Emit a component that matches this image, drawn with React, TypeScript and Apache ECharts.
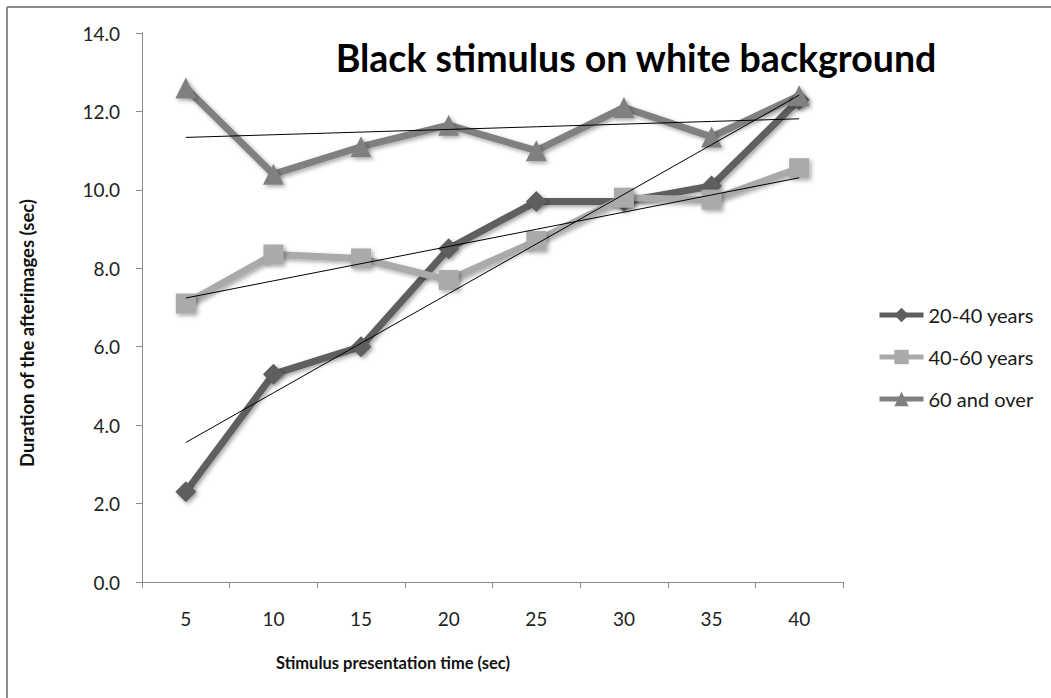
import React, { useEffect, useRef } from "react";
import * as echarts from "echarts";

const categories = ["5", "10", "15", "20", "25", "30", "35", "40"];
const young = [2.3, 5.3, 6.0, 8.5, 9.7, 9.7, 10.1, 12.3];
const middle = [7.1, 8.35, 8.25, 7.7, 8.7, 9.8, 9.75, 10.55];
const older = [12.6, 10.4, 11.1, 11.65, 11.0, 12.1, 11.35, 12.4];
const seriesNames = ["20-40 years", "40-60 years", "60 and over"];
const yTicks = { min: 0, max: 14, interval: 2 };

// least-squares linear trend evaluated at each category position
function linearTrend(values: number[]): number[] {
  const n = values.length;
  const xs = values.map((_, i) => i);
  const mx = xs.reduce((a, b) => a + b, 0) / n;
  const my = values.reduce((a, b) => a + b, 0) / n;
  let sxy = 0;
  let sxx = 0;
  for (let i = 0; i < n; i++) {
    sxy += (xs[i] - mx) * (values[i] - my);
    sxx += (xs[i] - mx) * (xs[i] - mx);
  }
  const slope = sxy / sxx;
  return xs.map((x) => +(my + slope * (x - mx)).toFixed(4));
}

const FONT = "Lato, 'Open Sans', sans-serif";

export default function App() {
  const ref = useRef<HTMLDivElement>(null);

  useEffect(() => {
    document.body.style.margin = "0";
    const chart = echarts.init(ref.current!, null, { renderer: "svg" });

    const shadow = {
      shadowColor: "rgba(0,0,0,0.35)",
      shadowBlur: 4,
      shadowOffsetX: 2,
      shadowOffsetY: 2,
    };

    const mainSeries = [
      { name: seriesNames[0], data: young, color: "#5e5e5e", symbol: "diamond", size: 21 },
      { name: seriesNames[1], data: middle, color: "#aaaaaa", symbol: "rect", size: 20 },
      { name: seriesNames[2], data: older, color: "#808080", symbol: "triangle", size: 21 },
    ].map((s) => ({
      type: "line",
      name: s.name,
      data: s.data,
      symbol: s.symbol,
      symbolSize: s.size,
      z: 3,
      itemStyle: { color: s.color, ...shadow },
      lineStyle: { color: s.color, width: 7, ...shadow },
    }));

    const trendSeries = [young, middle, older].map((d, i) => ({
      type: "line",
      name: "trend-" + i,
      data: linearTrend(d),
      symbol: "none",
      z: 4,
      silent: true,
      lineStyle: { color: "#000000", width: 1 },
    }));

    chart.setOption({
      animation: false,
      backgroundColor: "#ffffff",
      grid: { left: 142, right: 208, top: 33, bottom: 116, containLabel: false },
      legend: {
        data: seriesNames,
        orient: "vertical",
        left: 877,
        top: 305,
        padding: 0,
        itemWidth: 44,
        itemHeight: 18,
        itemGap: 22,
        lineStyle: { width: 5 },
        textStyle: { fontFamily: FONT, fontSize: 20, color: "#1a1a1a" },
      },
      xAxis: {
        type: "category",
        data: categories,
        boundaryGap: true,
        axisLine: { lineStyle: { color: "#8a8a8a", width: 1 } },
        axisTick: { show: true, length: 6, inside: false, lineStyle: { color: "#8a8a8a" } },
        axisLabel: { fontFamily: FONT, fontSize: 19, color: "#222", margin: 27 },
        splitLine: { show: false },
      },
      yAxis: {
        type: "value",
        min: yTicks.min,
        max: yTicks.max,
        interval: yTicks.interval,
        axisLine: { show: true, lineStyle: { color: "#8a8a8a", width: 1 } },
        axisTick: { show: true, length: 6, lineStyle: { color: "#8a8a8a" } },
        axisLabel: {
          fontFamily: FONT,
          fontSize: 19,
          color: "#222",
          margin: 22,
          formatter: (v: number) => v.toFixed(1),
        },
        splitLine: { show: false },
      },
      graphic: [
        { type: "line", shape: { x1: 7, y1: 7, x2: 1051, y2: 7 }, style: { stroke: "#8c8c8c", lineWidth: 2 } },
        { type: "line", shape: { x1: 7, y1: 7, x2: 7, y2: 698 }, style: { stroke: "#8c8c8c", lineWidth: 2 } },
        {
          type: "text",
          x: 636,
          y: 57,
          style: {
            text: "Black stimulus on white background",
            fontFamily: FONT,
            fontWeight: "bold",
            fontSize: 37.5,
            fill: "#000",
            textAlign: "center",
            textVerticalAlign: "middle",
          },
        },
        {
          type: "text",
          x: 393,
          y: 663,
          style: {
            text: "Stimulus presentation time (sec)",
            fontFamily: FONT,
            fontWeight: "bold",
            fontSize: 16.5,
            fill: "#111",
            textAlign: "center",
            textVerticalAlign: "middle",
          },
        },
        {
          type: "text",
          x: 27,
          y: 333,
          rotation: Math.PI / 2,
          style: {
            text: "Duration of the afterimages (sec)",
            fontFamily: FONT,
            fontWeight: "bold",
            fontSize: 18.5,
            fill: "#111",
            textAlign: "center",
            textVerticalAlign: "middle",
          },
        },
      ],
      series: [...mainSeries, ...trendSeries],
    });

    return () => chart.dispose();
  }, []);

  return (
    <div
      ref={ref}
      style={{ position: "absolute", left: 0, top: 0, width: 1051, height: 698 }}
    />
  );
}
